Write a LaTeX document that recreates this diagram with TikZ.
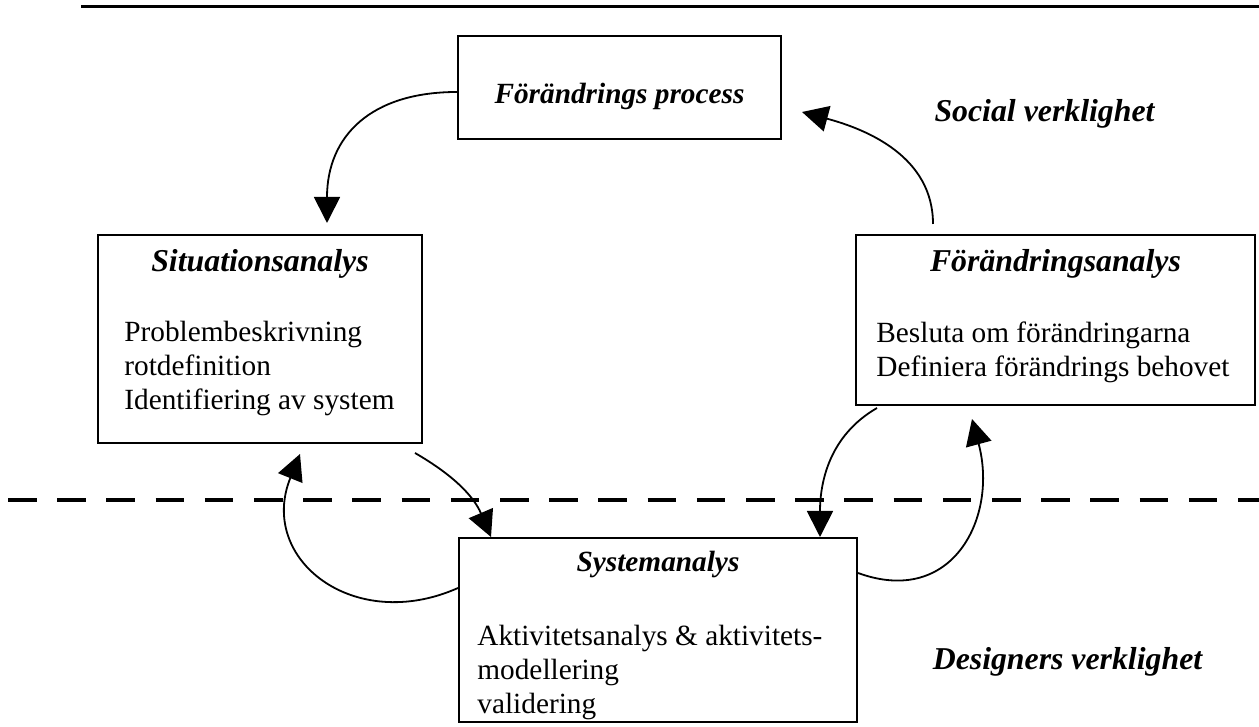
\documentclass[tikz,border=0pt]{standalone}
\usepackage{fontspec}
\setmainfont{Liberation Serif}
\usetikzlibrary{positioning,arrows.meta}

\begin{document}
\begin{tikzpicture}[x=0.5pt,y=0.5pt]
    \tikzstyle{box} = [draw,rectangle,line width=1pt,fill=none,inner sep=0pt]
    \tikzstyle{mytitle} = [inner sep=0pt,font=\fontsize{15.9}{17}\selectfont\bfseries\itshape]
    \tikzstyle{smalltitle} = [inner sep=0pt,font=\fontsize{14.65}{17}\selectfont\bfseries\itshape]
    \tikzstyle{mytext} = [align=left,inner sep=0pt,font=\fontsize{14.65}{16.9}\selectfont]
    \tikzstyle{arr} = [-{Triangle[length=13pt,width=13pt]},line width=0.9pt]
    \useasboundingbox (0,0) rectangle (1259,727);
    % rules
    \draw[line width=1.5pt] (81,720) -- (1259,720);
    \draw[line width=2.3pt,dash pattern=on 14.3pt off 10.3pt] (8,227) -- (1259,227);
    % boxes
    \node[box,minimum width=161.5pt,minimum height=51.5pt] (proc) at (619.5,639.5) {};
    \node[smalltitle,above=18pt of proc.south,anchor=base] (procTitle) {Förändrings process};
    \node[box,minimum width=162pt,minimum height=104pt] (sit) at (260,388) {};
    \node[mytitle,below=19pt of sit.north,anchor=base] (sitTitle) {Situationsanalys};
    \node[mytext,below right=43.4pt and 13.5pt of sit.north west,anchor=north west] (sitText)
        {Problembeskrivning\\rotdefinition\\Identifiering av system};
    \node[box,minimum width=199.5pt,minimum height=85pt] (fandr) at (1055.5,407) {};
    \node[mytitle,below=19pt of fandr.north,anchor=base] (fandrTitle) {Förändringsanalys};
    \node[mytext,below right=43.9pt and 10.5pt of fandr.north west,anchor=north west] (fandrText)
        {Besluta om förändringarna\\Definiera förändrings behovet};
    \node[box,minimum width=199pt,minimum height=92pt] (sys) at (658,97) {};
    \node[smalltitle,below=17.5pt of sys.north,anchor=base] (sysTitle) {Systemanalys};
    \node[mytext,below right=43.9pt and 9.5pt of sys.north west,anchor=north west] (sysText)
        {Aktivitetsanalys \& aktivitets-\\modellering\\validering};
    % labels
    \node[mytitle,anchor=base] (social) at (1044.5,605) {Social verklighet};
    \node[mytitle,anchor=base] (designers) at (1067.5,57) {Designers verklighet};
    % arrows
    \draw[arr] ([yshift=-2.25pt]proc.west) to[out=180,in=90,looseness=1.2] ([xshift=33.5pt,yshift=5.5pt]sit.north);
    \draw[arr] ([xshift=-61.25pt,yshift=5pt]fandr.north) to[out=90,in=-15] ([xshift=10pt,yshift=-12.25pt]proc.east);
    \draw[arr] ([xshift=-4pt,yshift=-4.5pt]sit.south east) to[out=-30,in=113] ([xshift=16.5pt]sys.north west);
    \draw[arr] ([yshift=21pt]sys.west) to[out=204,in=248,looseness=1.4] ([xshift=20pt,yshift=-5pt]sit.south);
    \draw[arr] ([yshift=28.5pt]sys.east) to[out=-20,in=-75,looseness=1.35] ([xshift=-41.75pt,yshift=-6.5pt]fandr.south);
    \draw[arr] ([xshift=11pt,yshift=-1pt]fandr.south west) to[out=210,in=90] ([xshift=-19pt]sys.north east);
\end{tikzpicture}
\end{document}
